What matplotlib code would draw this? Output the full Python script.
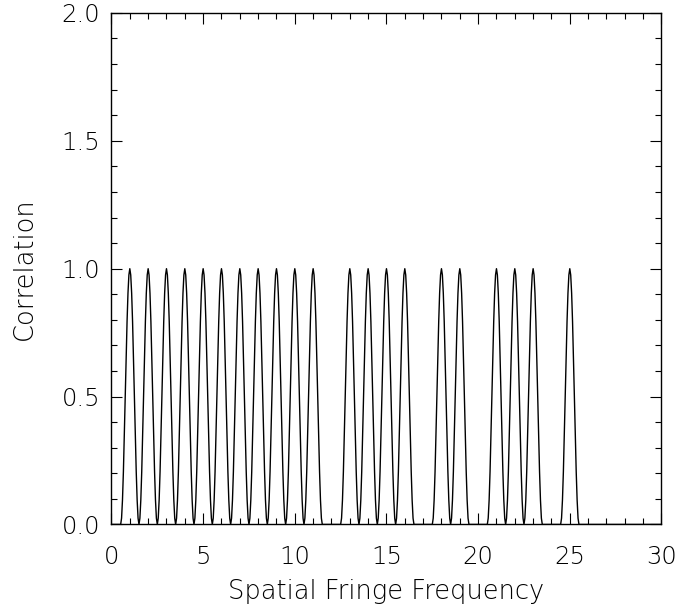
import numpy as np
import matplotlib
matplotlib.use('Agg')
import matplotlib.pyplot as plt
from matplotlib.ticker import MultipleLocator

# Peak (fringe) frequencies, each peak reaches 1.0
peak_freqs = [1, 2, 3, 4, 5, 6, 7, 8, 9, 10, 11, 13, 14, 15, 16, 18, 19, 21, 22, 23, 25]
peak_heights = [1.0] * len(peak_freqs)

x_ticks = [0, 5, 10, 15, 20, 25, 30]
y_ticks = [0.0, 0.5, 1.0, 1.5, 2.0]

# fairly coarse sampling like the original (pointed tops)
freq = np.linspace(0, 30, 601)
corr = np.zeros_like(freq)
for f0, h in zip(peak_freqs, peak_heights):
    d = freq - f0
    lobe = np.where(np.abs(d) <= 0.5, h * np.cos(np.pi * d) ** 2, 0.0)
    corr = np.maximum(corr, lobe)

plt.rcParams['font.family'] = ['DejaVu Sans']
plt.rcParams['font.weight'] = 200

fig = plt.figure(figsize=(6.81, 6.09), dpi=100)
ax = fig.add_axes([0.1637, 0.1388, 0.8076, 0.840])

ax.plot(freq, corr, color='black', linewidth=1.0)

ax.set_xlim(0, 30)
ax.set_ylim(0, 2.0)
ax.set_xticks(x_ticks)
ax.set_yticks(y_ticks)
ax.set_yticklabels([f'{v:.1f}' for v in y_ticks])
ax.xaxis.set_minor_locator(MultipleLocator(1))
ax.yaxis.set_minor_locator(MultipleLocator(0.1))

ax.tick_params(which='both', direction='in', top=True, right=True,
               width=0.8, labelsize=17.5, colors='black')
ax.tick_params(which='major', length=8)
ax.tick_params(which='minor', length=4.5)
ax.tick_params(axis='x', which='major', pad=15)
ax.tick_params(axis='y', which='major', pad=8)
for lab in ax.get_xticklabels() + ax.get_yticklabels():
    lab.set_fontweight(200)

for sp in ax.spines.values():
    sp.set_linewidth(1.0)

ax.set_xlabel('Spatial Fringe Frequency', fontsize=18.5, fontweight=200, labelpad=7)
ax.set_ylabel('Correlation', fontsize=18.5, fontweight=200, labelpad=18)

fig.savefig('out.png', dpi=100)
